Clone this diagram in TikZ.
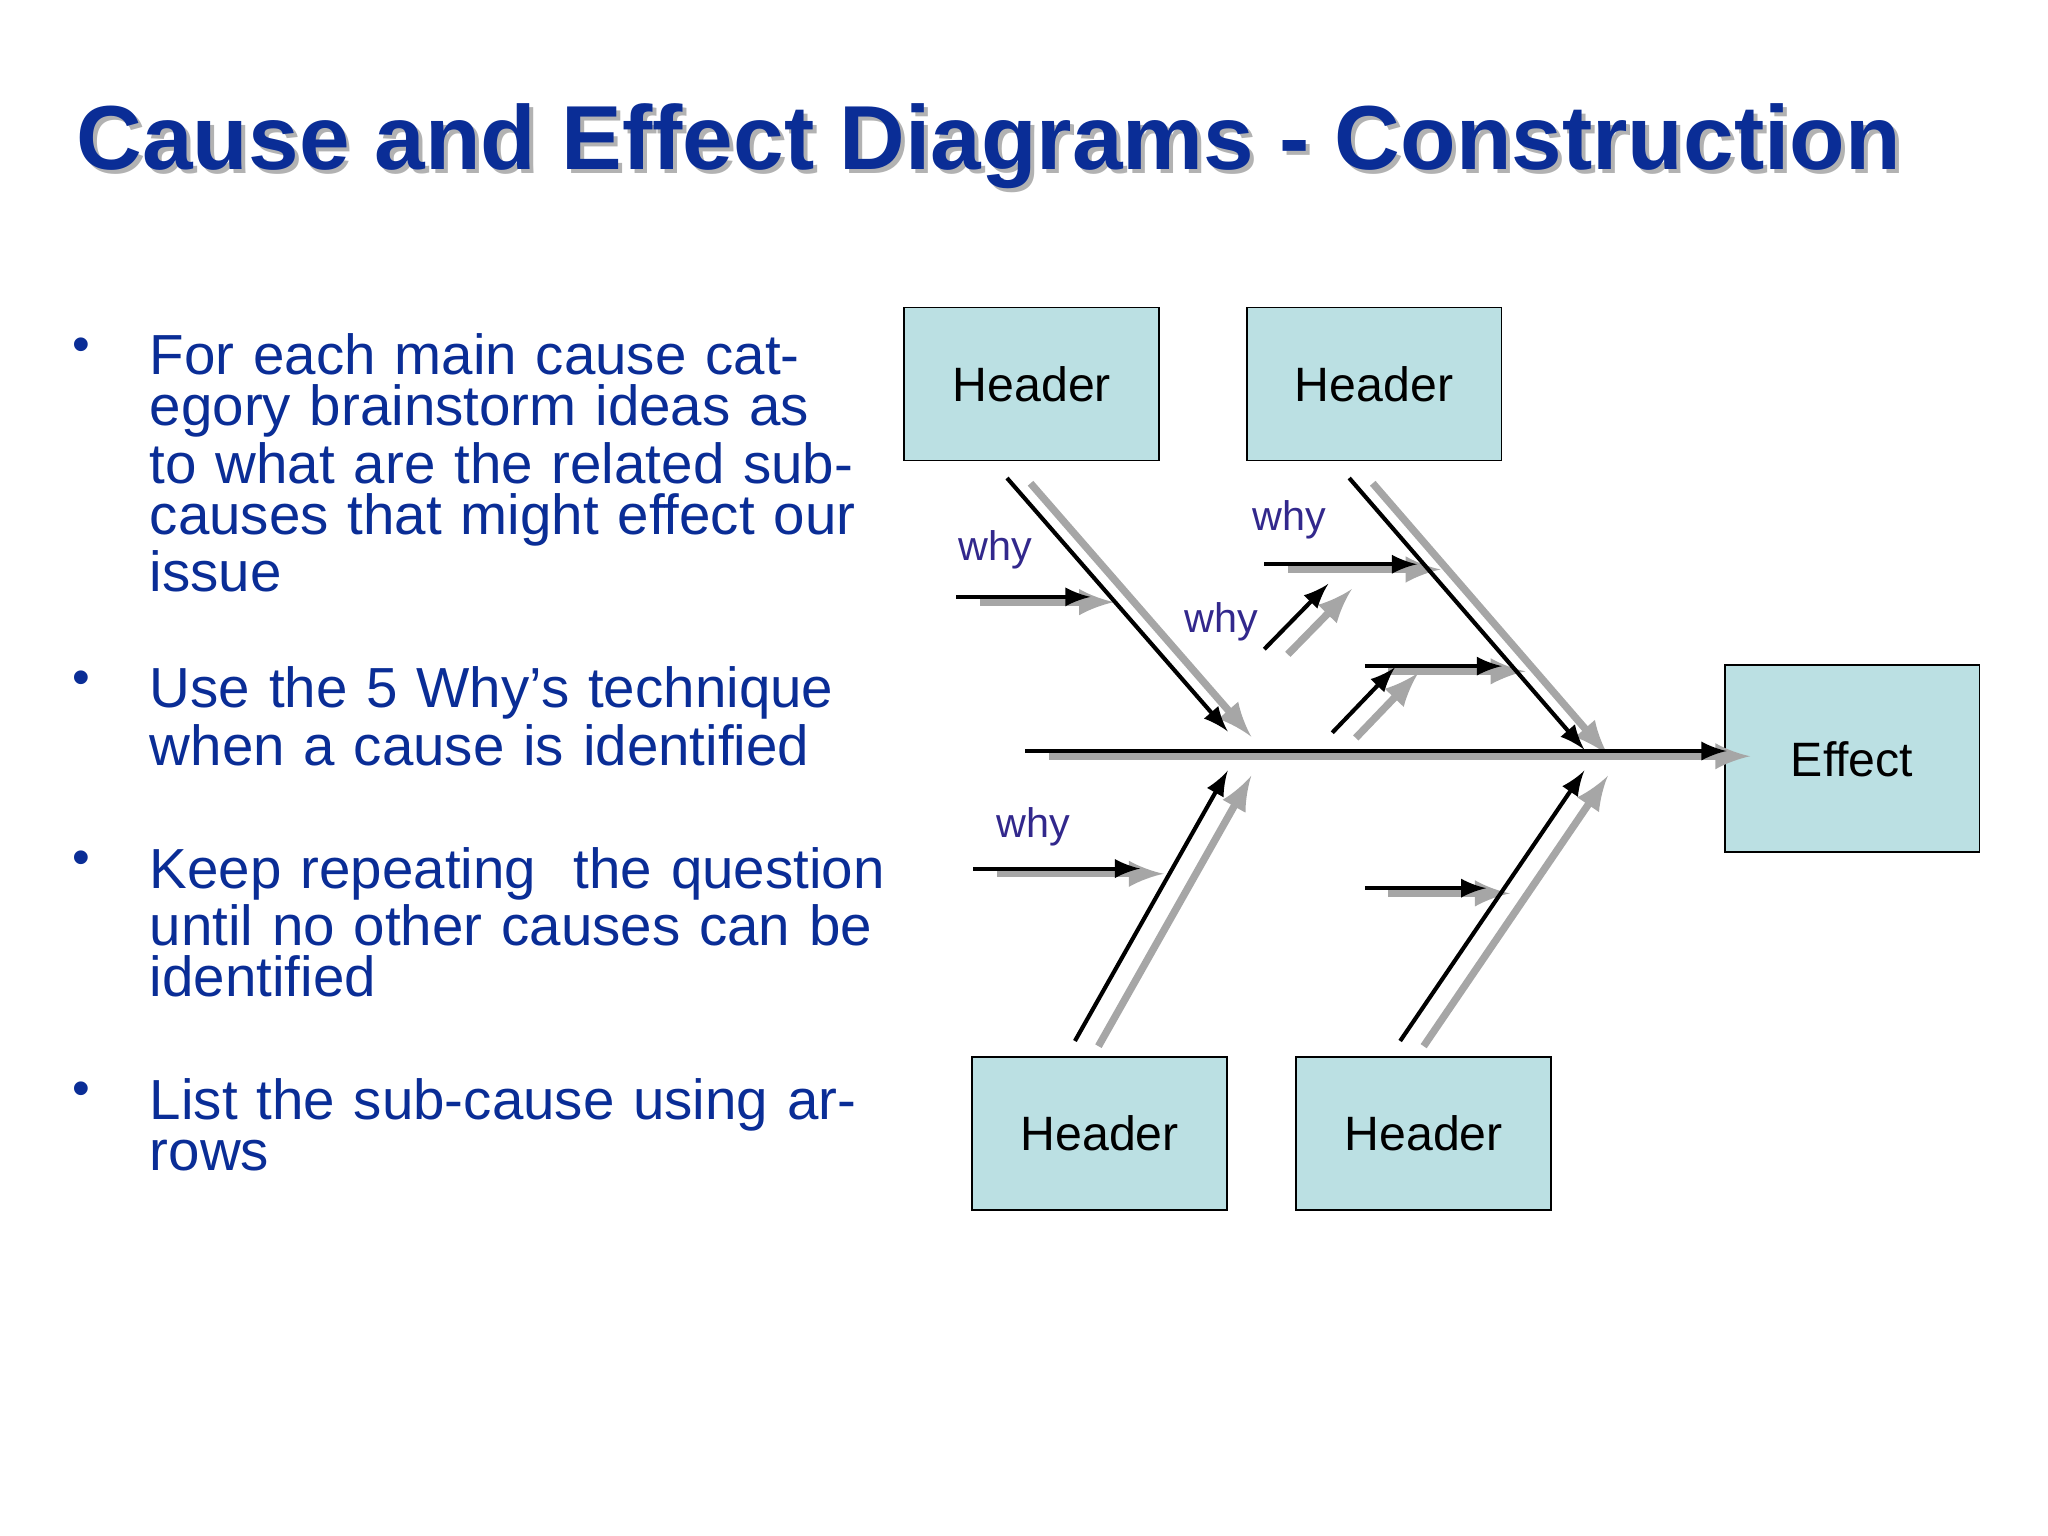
\documentclass[tikz,border=0pt]{standalone}
\usepackage{fontspec}
\setmainfont{Liberation Sans}
\usetikzlibrary{positioning}
\definecolor{slideblue}{RGB}{10,45,150}
\definecolor{whyblue}{RGB}{50,40,140}
\definecolor{boxfill}{RGB}{187,224,227}
\tikzset{
    header/.style={rectangle, draw=black, fill=boxfill, minimum width=1.95cm, minimum height=1.17cm, font=\fontsize{10.5}{12}\selectfont},
    bone/.style={->, >=latex, black, line width=0.9pt},
    shade/.style={->, >=latex, gray!70, line width=1.6pt},
    why/.style={text=whyblue, font=\fontsize{9}{10}\selectfont},
    bullet/.style={anchor=north west, inner sep=0pt, text=slideblue, text width=5.75cm, align=left, font=\fontsize{12.3}{11.1}\selectfont},
    title/.style={anchor=base west, inner sep=0pt, font=\bfseries\fontsize{19.8}{24}\selectfont}
}
\begin{document}
\begin{tikzpicture}[x=0.01cm, y=-0.01cm]
    \useasboundingbox (0,0) rectangle (1568,1176);
    % Title with shadow
    \node [title, text=gray!60] at (61,133) {Cause and Effect Diagrams - Construction};
    \node [title, text=slideblue] (title) at (58,130) {Cause and Effect Diagrams - Construction};

    % Bullet list
    \foreach \y/\txt in {255/{For each main cause category brainstorm ideas as to what are the related sub-causes that might effect our issue},
                         510/{Use the 5 Why’s technique when a cause is identified},
                         648/{Keep repeating\ \ the question until no other causes can be identified},
                         825/{List the sub-cause using arrows}} {
        \node [text=slideblue, inner sep=0pt, font=\fontsize{11}{12}\selectfont, anchor=north] at (62,\y+3) {\textbullet};
        \node [bullet] at (114,\y) {\txt};
    }

    % Boxes
    \node [header] (head1) at (790,294) {Header};
    \node [header] (head2) at (1052,294) {Header};
    \node [header] (head3) at (842,868) {Header};
    \node [header] (head4) at (1090,868) {Header};
    \node [header, minimum height=1.43cm] (effect) at (1418,581) {Effect};

    % Points along the fishbone
    \foreach \n/\a/\b in {spine/785/575, spineend/1322/575,
                          b1s/771/366, b1e/940/560, b2s/1033/366, b2e/1213/574,
                          b3s/823/797, b3e/940/590, b4s/1072/797, b4e/1213/590,
                          w1s/732/457, w1e/835/457, w2s/968/432, w2e/1085/432,
                          w3s/968/497, w3e/1017/447, w4s/1045/510, w4e/1150/510,
                          w5s/1020/561, w5e/1068/511, w6s/745/665, w6e/873/665,
                          w7s/1045/680, w7e/1138/680}
        \coordinate (\n) at (\a,\b);

    % Shadows
    \foreach \s/\e in {spine/spineend, b1s/b1e, b2s/b2e, b3s/b3e, b4s/b4e,
                       w1s/w1e, w2s/w2e, w3s/w3e, w4s/w4e, w5s/w5e, w6s/w6e, w7s/w7e}
        \draw [shade] ([shift={(18,4)}]\s) -- ([shift={(18,4)}]\e);

    % Bones
    \foreach \s/\e in {spine/spineend, b1s/b1e, b2s/b2e, b3s/b3e, b4s/b4e,
                       w1s/w1e, w2s/w2e, w3s/w3e, w4s/w4e, w5s/w5e, w6s/w6e, w7s/w7e}
        \draw [bone] (\s) -- (\e);

    % Why labels
    \node [why] (why1) at (762,421) {why};
    \node [why] (why2) at (987,398) {why};
    \node [why] (why3) at (935,476) {why};
    \node [why] (why4) at (791,633) {why};
\end{tikzpicture}
\end{document}
